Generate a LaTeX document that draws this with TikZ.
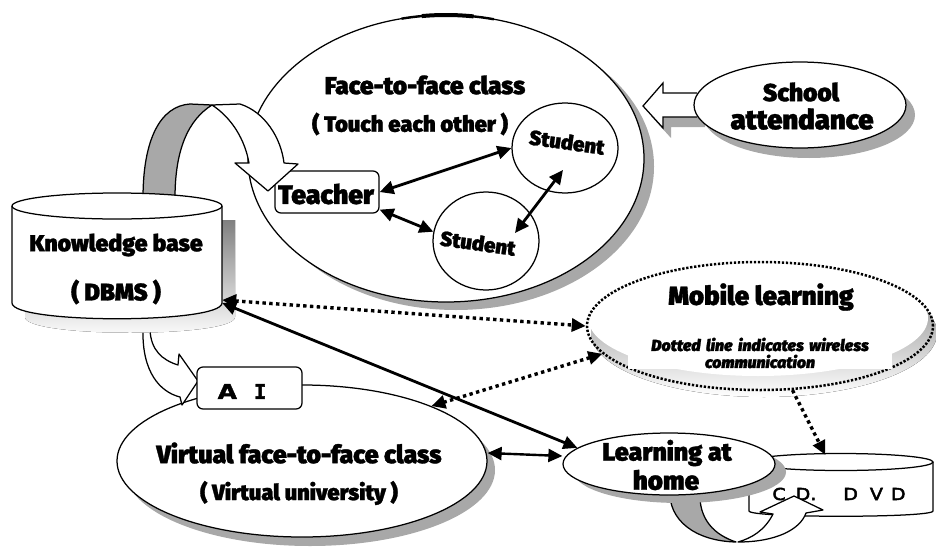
\documentclass[tikz,border=0pt]{standalone}
\usepackage{fontspec}
\setmainfont{Fira Sans}[UprightFont={* Black}, ItalicFont={* Black Italic}, BoldFont={* Black}, BoldItalicFont={* Black Italic}, FakeBold=1.2]
\newfontfamily\wideletters{DejaVu Sans Bold}[FakeStretch=1.22, FakeBold=2]
\newfontfamily\serifI{DejaVu Sans Mono Bold}[FakeBold=2]
\newfontfamily\discletters{DejaVu Sans}[FakeStretch=1.15, FakeBold=3]
\usetikzlibrary{shapes.geometric, shadows, arrows.meta}

\definecolor{shade}{RGB}{168,168,168}

\newcommand\fsz[1]{\fontsize{#1}{#1}\selectfont}

\tikzset{
  outline/.style={draw, line width=1.25pt},
  oval/.style={ellipse, outline, fill=white, inner sep=0pt},
  tag/.style={rectangle, rounded corners=6pt, outline, fill=white, inner sep=0pt},
  shd/.style 2 args={drop shadow={shadow xshift=#1pt, shadow yshift=-#2pt, fill=shade, opacity=1}},
  txt/.style={inner sep=0pt, align=center},
  ribbon/.style={outline, line join=round},
  headT/.tip={Triangle[length=14pt,width=13pt]},
  twoway/.style={line width=2.8pt, headT-headT},
  wless/.style={line width=3.4pt, dash pattern=on 3.4pt off 3.4pt},
}

\begin{document}
\begin{tikzpicture}[x=1pt, y=-1pt]
\useasboundingbox (0,0) rectangle (936,546);

% ---------- face-to-face class ----------
\node[oval, shd={10}{8}, minimum width=396pt, minimum height=287pt] (f2f) at (446,158.5) {};
\draw[line width=2.4pt] ({446+198*cos(76)},{158.5-143.5*sin(76)}) arc[start angle=76, end angle=103, x radius=198pt, y radius=143.5pt];
\draw[line width=4pt] ({446+198*cos(82)},{158.5-143.5*sin(82)}) arc[start angle=82, end angle=97, x radius=198pt, y radius=143.5pt];
\node[txt, font=\fsz{24.5}] (f2ft) at (425,85) {Face-to-face class};
\node[txt, font=\fsz{22}] (f2fs) at (410,124) {( Touch each other )};

\node[tag, minimum width=104pt, minimum height=42pt] (teacher) at (327,192) {};
\node[txt, font=\fsz{26.5}] (teachert) at (326,194) {Teacher};
\node[oval, minimum width=106pt, minimum height=90pt] (stud1) at (565,148) {};
\node[txt, font=\fsz{20.5}, rotate=-8] (stud1t) at (567,142) {Student};
\node[oval, minimum width=106pt, minimum height=98pt] (stud2) at (486,241) {};
\node[txt, font=\fsz{20.5}, rotate=-8] (stud2t) at (478,243) {Student};

% ---------- school attendance ----------
\draw[outline, fill=white, shd={8}{10}, line join=miter]
  (697,93) -- (663,93) -- (663,83) -- (643,106) -- (663,128) -- (663,117) -- (697,117);
\node[oval, shd={9}{10}, minimum width=212pt, minimum height=86pt] (school) at (800,105) {};
\node[txt, font=\fsz{24.5}] (schoolt1) at (801,92) {School};
\node[txt, font=\fsz{27.5}] (schoolt2) at (802,119) {attendance};

% ---------- virtual class ----------
\node[oval, shd={8}{9}, minimum width=370pt, minimum height=152pt] (virtual) at (302,461) {};
\node[txt, font=\fsz{25}] (virtualt) at (299,453) {Virtual face-to-face class};
\node[txt, font=\fsz{22}] (virtuals) at (299,493) {( Virtual university )};

% ribbon arrow: knowledge base down to AI
\draw[ribbon, fill=white]
  (143,330) .. controls (142,372) and (160,392) .. (180,397) -- (182,405) -- (198,381)
  -- (179,354) -- (178,365) .. controls (162,360) and (151,350) .. (150,330) -- cycle;

% ---------- knowledge base (cylinder) ----------
\fill[shade] (25,220) -- (25,317) .. controls (25,338) and (235,338) .. (235,317) -- (235,220) -- cycle;
% ribbon arrow: knowledge base up to the teacher
\draw[ribbon, fill=shade]
  (143,198) .. controls (143,140) and (160,106) .. (190,104) -- (212,105)
  .. controls (188,120) and (175,150) .. (175,198) -- cycle;
\draw[ribbon, fill=white]
  (212,105) -- (240,104) .. controls (265,112) and (281,138) .. (284,163) -- (298,164)
  -- (268,191) -- (235,163) -- (249,163) .. controls (245,140) and (232,118) .. (212,105) -- cycle;
\filldraw[outline, fill=white] (12,206) -- (12,303) .. controls (12,324) and (222,324) .. (222,303) -- (222,206);
\filldraw[outline, fill=white] (117,206) ellipse [x radius=105, y radius=13];
\node[minimum width=210pt, minimum height=128pt, inner sep=0pt] (kb) at (117,258) {};
\node[txt, font=\fsz{23}] (kbt) at (116,245) {Knowledge base};
\node[txt, font=\fsz{24}] (kbs) at (116,292) {( DBMS )};

\node[tag, minimum width=105pt, minimum height=42pt] (ai) at (249.5,388) {};
\node[txt] (ait) at (242,391.5) {\wideletters\fsz{20.5}A\hspace{17pt}\serifI I};

% ---------- mobile learning ----------
\fill[shade] (764,333) ellipse [x radius=173, y radius=64];
\fill[white] (758,318) ellipse [x radius=170, y radius=58];
\node[ellipse, draw, line width=2.5pt, dash pattern=on 2.3pt off 1.7pt, inner sep=0pt, minimum width=346pt, minimum height=128pt] (mobile) at (760,326) {};
\node[txt, font=\fsz{26}] (mobilet) at (761,297) {Mobile learning};
\node[inner sep=1pt, fill=white, align=center, text width=262pt, font=\fsz{16}\itshape] (mobiles) at (760,353) {Dotted line indicates wireless\\[1pt]communication};

% ---------- CD, DVD and learning at home ----------
\filldraw[outline, fill=white] (749,462) -- (749,511) .. controls (749,518) and (933,518) .. (933,511) -- (933,462);
\filldraw[outline, fill=white] (841,462) ellipse [x radius=92, y radius=8.5];
\node[minimum width=184pt, minimum height=62pt, inner sep=0pt] (cd) at (841,486) {};
\node[txt, font={\discletters\fsz{16.5}}] (cdt) at (839,494)
  {C\hspace{10pt}D.\hspace{27pt}D\hspace{12pt}V\hspace{8pt}D};
% ribbon arrow: learning at home round to the discs
\draw[ribbon, fill=shade]
  (670,490) .. controls (668,520) and (695,541) .. (736,542)
  .. controls (715,535) and (698,520) .. (700,490) -- cycle;
\draw[ribbon, fill=white]
  (738,542) .. controls (775,542) and (800,530) .. (806,513) -- (823,510) -- (794,496)
  -- (760,512) -- (773,514) .. controls (765,530) and (752,538) .. (738,542) -- cycle;
\node[oval, shd={11}{8}, minimum width=212pt, minimum height=62pt] (learn) at (669,464) {};
\node[txt, font=\fsz{25}] (learnt1) at (667,453) {Learning at};
\node[txt, font=\fsz{26}] (learnt2) at (666,480) {home};

% ---------- connectors ----------
\draw[twoway] (teacher.east) -- (stud1.west);
\draw[twoway] ([yshift=4pt]teacher.south east) -- (stud2.170);
\draw[twoway] ([shift={(-2pt,-22pt)}]stud1.center) -- ([shift={(29pt,8pt)}]stud2.center);

\draw[wless, headT-headT] ([yshift=-42pt]kb.east) -- (mobile.west);
\draw[line width=2.8pt, headT-headT] ([yshift=-45pt]kb.east) -- (learn.170);
\draw[wless, headT-headT] (mobile.190) -- (virtual.23);
\draw[line width=2.4pt, headT-headT] ([yshift=8pt]virtual.east) -- ([yshift=8pt]learn.west);
\draw[wless, -headT] (mobile) -- (cd);
\end{tikzpicture}
\end{document}
